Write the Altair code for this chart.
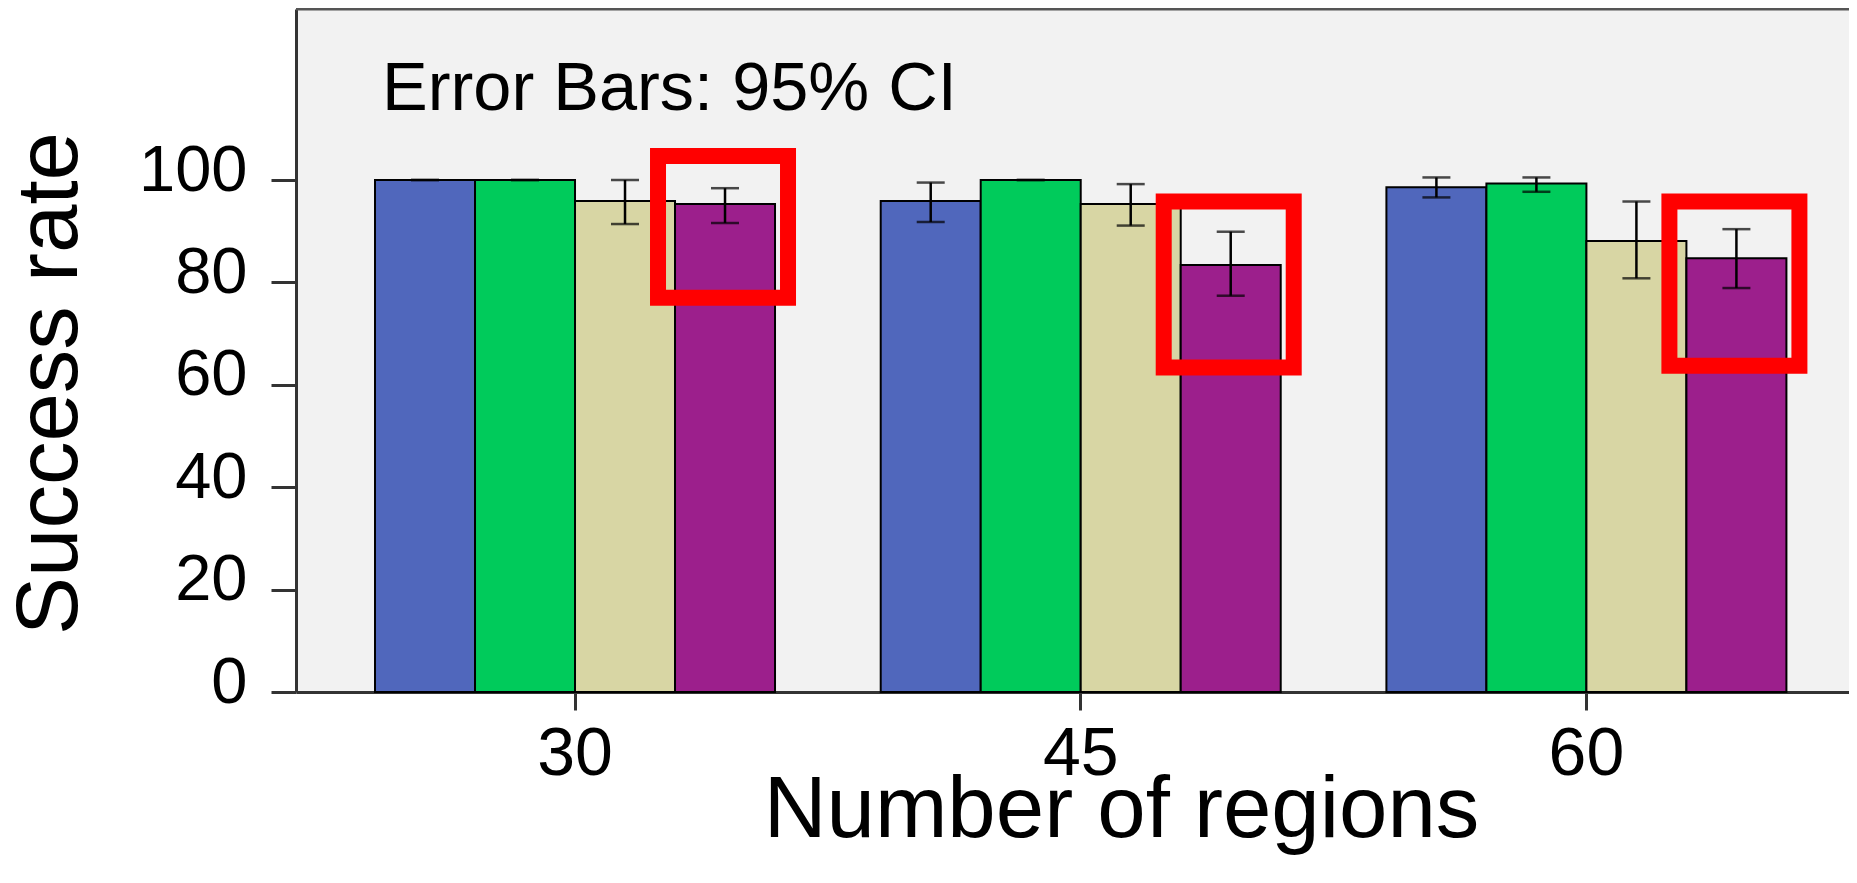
import altair as alt
import pandas as pd

# ---- data ----
groups = ["30", "45", "60"]
series = ["S1", "S2", "S3", "S4"]
colors = ["#5067BC", "#00CB5B", "#D8D6A4", "#9C1F8C"]

mean_30 = [100.0, 100.0, 95.9, 95.3]
mean_45 = [95.9, 100.0, 95.3, 83.4]
mean_60 = [98.6, 99.3, 88.1, 84.7]

lo_30 = [100.0, 100.0, 91.4, 91.6]
lo_45 = [91.8, 100.0, 91.1, 77.4]
lo_60 = [96.6, 97.7, 80.8, 78.9]

hi_30 = [100.0, 100.0, 100.0, 98.4]
hi_45 = [99.5, 100.0, 99.2, 89.9]
hi_60 = [100.5, 100.5, 95.8, 90.4]

# highlight boxes (around the 4th series of each group)
box_groups = ["30", "45", "60"]
box_lo = [77.0, 63.4, 63.7]
box_hi = [104.7, 95.8, 95.8]

y_ticks = [0, 20, 40, 60, 80, 100]

rows = []
for g, m, l, h in [("30", mean_30, lo_30, hi_30), ("45", mean_45, lo_45, hi_45), ("60", mean_60, lo_60, hi_60)]:
    for s, mv, lv, hv in zip(series, m, l, h):
        rows.append({"group": g, "series": s, "mean": mv, "lo": lv, "hi": hv})
df = pd.DataFrame(rows)
box_df = pd.DataFrame({"group": box_groups, "lo": box_lo, "hi": box_hi})

FONT = "Liberation Sans"
W, H = 1553, 683

xscale = alt.Scale(domain=groups, paddingInner=0.209, paddingOuter=0.14, align=0.558)
xoff = alt.XOffset("series:N", scale=alt.Scale(domain=series, paddingInner=0, paddingOuter=0))
yscale = alt.Scale(domain=[0, 133.4], nice=False, zero=True)

xaxis = alt.Axis(
    title="Number of regions", labelAngle=0, labelFont=FONT, labelFontSize=68,
    labelColor="black", labelBaseline="alphabetic", labelPadding=64,
    tickSize=18, tickWidth=3, tickColor="#333333", domainColor="#333333", domainWidth=3,
    titleFont=FONT, titleFontSize=87, titleFontWeight="normal", titleColor="black",
    titleX=825, titleY=144, titleBaseline="alphabetic", titleAlign="center",
)
yaxis = alt.Axis(
    title="Success rate", values=y_ticks, grid=False, labelFont=FONT, labelFontSize=65,
    labelColor="black", labelPadding=24, labelBaseline="alphabetic", labelOffset=10,
    tickSize=25, tickWidth=3, tickColor="#333333", domainColor="#333333", domainWidth=3,
    titleFont=FONT, titleFontSize=87, titleFontWeight="normal", titleColor="black",
    titleAngle=270, titleX=-220, titleY=374, titleBaseline="alphabetic", titleAlign="center",
)

x_enc = alt.X("group:N", scale=xscale, axis=xaxis)

base = alt.Chart(df)

bars = base.mark_bar(stroke="black", strokeWidth=2).encode(
    x=x_enc, xOffset=xoff,
    y=alt.Y("mean:Q", scale=yscale, axis=yaxis),
    color=alt.Color("series:N", scale=alt.Scale(domain=series, range=colors), legend=None),
)

err = base.mark_rule(color="black", strokeWidth=2.5).encode(
    x=x_enc, xOffset=xoff, y=alt.Y("lo:Q", scale=yscale), y2="hi:Q"
)
cap_lo = base.mark_tick(color="black", size=28, thickness=2.5).encode(
    x=x_enc, xOffset=xoff, y=alt.Y("lo:Q", scale=yscale)
)
cap_hi = base.mark_tick(color="black", size=28, thickness=2.5).encode(
    x=x_enc, xOffset=xoff, y=alt.Y("hi:Q", scale=yscale)
)

# red highlight frames: sized relative to the group band, shifted onto the 4th bar
boxes = alt.Chart(box_df).mark_bar(
    fill="white", fillOpacity=0, stroke="#FF0000", strokeWidth=16,
    width=alt.RelativeBandSize(0.325), xOffset=148,
).encode(
    x=x_enc, y=alt.Y("lo:Q", scale=yscale), y2="hi:Q"
)

one = pd.DataFrame({"k": [0]})
note = alt.Chart(one).mark_text(
    text="Error Bars: 95% CI", align="left", baseline="alphabetic",
    font=FONT, fontSize=68.5, color="black",
).encode(x=alt.value(86), y=alt.value(101))

top_border = alt.Chart(one).mark_rule(color="#555555", strokeWidth=3).encode(
    x=alt.value(0), x2=alt.value(W), y=alt.value(0)
)

chart = alt.layer(bars, err, cap_lo, cap_hi, boxes, note, top_border).properties(
    width=W, height=H,
    autosize=alt.AutoSizeParams(type="none"),
    padding={"left": 288, "top": 1, "right": 0, "bottom": 170},
    background="white",
).configure_view(fill="#F2F2F2", stroke="transparent")

chart.save("out.html", embed_options={"renderer": "svg", "actions": False})
